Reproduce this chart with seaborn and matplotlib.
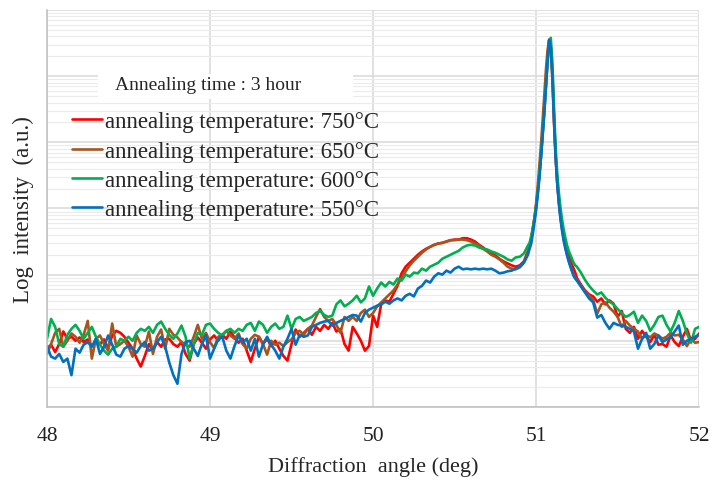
import numpy as np
import pandas as pd
import matplotlib
matplotlib.use("Agg")
import matplotlib.pyplot as plt
from matplotlib.patches import Rectangle
from matplotlib.ticker import FixedLocator, NullFormatter
import seaborn as sns

sns.set_theme(style="white")
plt.rcParams['font.family'] = ['Liberation Serif', 'DejaVu Sans']

# diffraction angle grid (deg): coarse, fine around the peak, coarse again
angle_a = np.round(48 + 0.025 * np.arange(119), 3)
angle_b = np.round(50.96 + 0.01 * np.arange(29), 2)
angle_c = np.round(51.25 + 0.025 * np.arange(31), 3)
angle = np.concatenate([angle_a, angle_b, angle_c])

# log10 intensity
log_750 = [
    0.88, 0.94, 0.83, 0.95, 1.14, 1.03, 1.06, 1.00, 1.05, 0.98,
    1.02, 0.92, 0.98, 0.95, 1.02, 0.88, 1.08, 1.15, 1.12, 1.06,
    0.97, 0.88, 0.73, 0.61, 0.77, 0.95, 0.85, 0.98, 0.91, 1.02,
    1.03, 0.95, 0.91, 0.98, 0.80, 0.70, 0.95, 1.05, 0.97, 0.88,
    1.02, 1.08, 1.00, 1.09, 1.03, 1.14, 1.05, 0.97, 1.03, 0.85,
    0.68, 0.88, 1.06, 0.95, 1.03, 0.92, 1.00, 0.88, 0.77, 0.70,
    0.95, 1.17, 1.06, 1.12, 1.18, 1.09, 1.21, 1.15, 1.24, 1.18,
    1.27, 1.14, 1.18, 0.95, 0.85, 1.21, 1.11, 1.00, 0.85, 0.92,
    1.38, 1.21, 1.56, 1.61, 1.59, 1.71, 1.83, 2.02, 2.12, 2.18,
    2.24, 2.30, 2.35, 2.39, 2.42, 2.45, 2.47, 2.48, 2.50, 2.52,
    2.53, 2.53, 2.55, 2.55, 2.53, 2.50, 2.45, 2.41, 2.36, 2.32,
    2.29, 2.24, 2.20, 2.17, 2.14, 2.12, 2.14, 2.20, 2.36,
    2.45, 2.55, 2.71, 2.85, 3.03, 3.26, 3.52, 3.80, 4.14, 4.48,
    4.85, 5.24, 5.55, 5.45, 5.05, 4.36, 3.79, 3.39, 3.11, 2.88,
    2.71, 2.58, 2.47, 2.38, 2.30, 2.23, 2.15, 2.09, 2.03,
    1.95, 1.85, 1.76, 1.70, 1.67, 1.59, 1.64, 1.55, 1.61, 1.56,
    1.36, 1.45, 1.18, 1.12, 1.21, 1.03, 1.15, 1.06, 0.98, 1.09,
    0.94, 0.95, 0.91, 1.08, 0.98, 0.92, 1.06, 1.18, 1.00, 1.03, 1.11,
]
log_650 = [
    0.80, 0.95, 1.12, 1.18, 0.91, 1.00, 1.11, 1.06, 0.97, 1.09,
    1.30, 0.73, 1.03, 1.08, 0.95, 0.85, 1.26, 0.91, 0.95, 1.00,
    0.91, 0.76, 1.08, 0.95, 0.91, 1.14, 0.80, 1.06, 1.17, 0.88,
    1.18, 1.09, 1.05, 0.98, 0.94, 0.91, 1.06, 1.24, 1.03, 1.12,
    0.98, 0.89, 1.06, 1.09, 1.15, 1.08, 1.03, 1.11, 0.95, 0.88,
    1.03, 1.09, 1.06, 0.95, 0.79, 1.00, 0.94, 0.97, 0.92, 0.98,
    1.02, 1.12, 1.15, 1.09, 1.18, 1.23, 1.36, 1.48, 1.36, 1.30,
    1.33, 1.24, 1.12, 1.36, 1.30, 1.36, 1.30, 1.42, 1.47, 1.36,
    1.42, 1.52, 1.58, 1.64, 1.70, 1.76, 1.85, 1.95, 2.05, 2.14,
    2.21, 2.27, 2.33, 2.38, 2.42, 2.45, 2.47, 2.48, 2.50, 2.52,
    2.52, 2.53, 2.53, 2.52, 2.50, 2.47, 2.44, 2.39, 2.35, 2.30,
    2.27, 2.23, 2.18, 2.12, 2.09, 2.08, 2.11, 2.18, 2.33,
    2.44, 2.53, 2.68, 2.86, 3.08, 3.33, 3.64, 3.97, 4.33, 4.70,
    5.09, 5.39, 5.55, 5.39, 4.94, 4.29, 3.76, 3.38, 3.09, 2.86,
    2.68, 2.53, 2.41, 2.30, 2.21, 2.14, 2.06, 2.00, 1.95,
    1.92, 1.83, 1.74, 1.68, 1.62, 1.41, 1.55, 1.58, 1.50, 1.44,
    1.36, 1.21, 1.30, 1.23, 1.18, 1.14, 1.03, 1.09, 1.05, 1.11,
    1.08, 1.03, 1.06, 1.12, 1.08, 1.09, 1.02, 0.92, 1.03, 0.97, 0.98,
]
log_600 = [
    1.03, 1.33, 1.21, 0.95, 0.91, 1.09, 1.18, 1.24, 1.15, 1.03,
    1.12, 1.21, 1.06, 0.94, 0.85, 0.79, 0.88, 0.91, 1.03, 1.00,
    1.06, 1.00, 1.12, 1.18, 1.15, 1.21, 1.12, 1.24, 1.29, 1.18,
    1.09, 1.03, 1.11, 1.23, 1.06, 0.73, 0.95, 1.12, 1.09, 1.24,
    1.26, 1.18, 1.12, 1.08, 1.15, 1.18, 1.12, 1.18, 1.15, 1.24,
    1.27, 1.15, 1.29, 1.24, 1.12, 1.21, 1.26, 1.18, 1.21, 1.38,
    1.18, 1.33, 1.36, 1.30, 1.33, 1.36, 1.42, 1.45, 1.39, 1.36,
    1.38, 1.55, 1.61, 1.52, 1.56, 1.61, 1.68, 1.58, 1.64, 1.82,
    1.68, 1.79, 1.88, 1.82, 1.89, 1.85, 1.94, 1.91, 2.00, 1.97,
    2.03, 2.02, 2.09, 2.06, 2.12, 2.15, 2.18, 2.24, 2.27, 2.30,
    2.33, 2.36, 2.41, 2.44, 2.45, 2.44, 2.41, 2.39, 2.38, 2.35,
    2.33, 2.30, 2.27, 2.23, 2.21, 2.26, 2.27, 2.32, 2.44,
    2.48, 2.58, 2.70, 2.85, 3.03, 3.24, 3.50, 3.79, 4.11, 4.45,
    4.82, 5.21, 5.52, 5.58, 5.20, 4.52, 3.91, 3.52, 3.23, 3.00,
    2.82, 2.67, 2.55, 2.44, 2.36, 2.30, 2.24, 2.18, 2.14,
    2.12, 2.03, 1.92, 1.83, 1.76, 1.70, 1.73, 1.65, 1.59, 1.55,
    1.48, 1.42, 1.36, 1.39, 1.44, 1.27, 1.38, 1.30, 1.15, 1.24,
    1.36, 1.38, 1.24, 1.14, 1.27, 1.45, 1.30, 1.11, 0.97, 1.18, 1.21,
]
log_550 = [
    0.92, 0.76, 0.73, 0.80, 0.68, 0.73, 0.48, 0.88, 0.82, 0.94,
    0.98, 0.91, 1.03, 0.80, 0.91, 1.08, 0.94, 0.79, 0.76, 0.88,
    0.92, 0.88, 0.82, 0.92, 0.98, 0.85, 0.88, 0.98, 1.06, 0.91,
    0.67, 0.48, 0.35, 0.80, 0.98, 1.00, 0.88, 0.77, 0.95, 1.08,
    0.73, 0.88, 1.02, 1.06, 0.85, 0.73, 0.92, 1.08, 0.97, 1.03,
    0.85, 1.03, 0.76, 0.95, 1.06, 0.94, 0.85, 0.73, 0.91, 1.03,
    1.18, 0.94, 1.09, 1.06, 1.08, 1.21, 1.24, 1.27, 1.29, 1.30,
    1.23, 1.27, 1.30, 1.33, 1.36, 1.39, 1.38, 1.29, 1.42, 1.47,
    1.50, 1.53, 1.55, 1.59, 1.56, 1.61, 1.64, 1.61, 1.68, 1.71,
    1.67, 1.79, 1.83, 1.91, 1.88, 1.97, 2.02, 2.00, 2.06, 2.03,
    2.09, 2.12, 2.08, 2.09, 2.08, 2.09, 2.08, 2.09, 2.08, 2.09,
    2.06, 2.02, 2.03, 2.05, 2.06, 2.09, 2.12, 2.18, 2.30,
    2.39, 2.47, 2.62, 2.79, 2.97, 3.20, 3.45, 3.76, 4.09, 4.44,
    4.82, 5.21, 5.55, 5.44, 5.00, 4.32, 3.76, 3.35, 3.06, 2.83,
    2.65, 2.50, 2.39, 2.29, 2.20, 2.12, 2.05, 1.98, 1.94,
    1.91, 1.82, 1.73, 1.64, 1.58, 1.35, 1.39, 1.27, 1.18, 1.27,
    1.24, 1.23, 1.21, 1.18, 1.14, 0.88, 1.03, 1.12, 0.88, 0.95,
    1.08, 0.98, 1.02, 1.05, 1.14, 1.23, 0.94, 1.00, 1.03, 1.06, 1.09,
]

labels = ["annealing temperature: 750°C", "annealing temperature: 650°C",
          "annealing temperature: 600°C", "annealing temperature: 550°C"]
colors = ["#ff0000", "#a5561e", "#00b050", "#0070c0"]

df = pd.concat([
    pd.DataFrame({"angle": angle, "logI": vals, "sample": lab})
    for vals, lab in zip([log_750, log_650, log_600, log_550], labels)
])

fig = plt.figure(figsize=(7.23, 4.81), dpi=100)
ax = fig.add_axes([0.065, 0.152, 0.902, 0.825])

sns.lineplot(data=df, x="angle", y="logI", hue="sample", hue_order=labels,
             palette=colors, estimator=None, sort=False, linewidth=1.9, ax=ax)

ax.set_xlim(48, 52)
ax.set_ylim(0, 6)
ax.set_xticks([48, 49, 50, 51, 52])
ax.yaxis.set_major_locator(FixedLocator(np.arange(0, 7)))
ax.yaxis.set_minor_locator(FixedLocator([n + np.log10(k) for n in range(6) for k in range(2, 10)]))
ax.yaxis.set_major_formatter(NullFormatter())
ax.set_axisbelow(True)
ax.grid(axis="x", which="major", color="#d9d9d9", linewidth=1.1)
ax.grid(axis="y", which="major", color="#d9d9d9", linewidth=1.1)
ax.grid(axis="y", which="minor", color="#ebebeb", linewidth=0.8)
ax.tick_params(axis="both", which="both", length=0)
ax.tick_params(axis="x", labelsize=15.5, pad=14, colors="#222222")
for side in ["top", "right"]:
    ax.spines[side].set_visible(False)
for side in ["left", "bottom"]:
    ax.spines[side].set_color("#bfbfbf")
    ax.spines[side].set_linewidth(1.1)

ax.set_xlabel("Diffraction  angle (deg)", fontsize=16, labelpad=8)
ax.set_ylabel("Log  intensity  (a.u.)", fontsize=16.5, labelpad=6)

handles, labs = ax.get_legend_handles_labels()
ax.legend(handles, labs, loc="upper left", bbox_to_anchor=(0.038, 0.745),
          frameon=False, fontsize=16.5, handlelength=1.3, handletextpad=0.15,
          labelspacing=0.36, borderpad=0, borderaxespad=0)

ax.add_patch(Rectangle((0.078, 0.776), 0.391, 0.063, transform=ax.transAxes,
                       facecolor="white", edgecolor="none", zorder=3))
ax.text(0.104, 0.812, "Annealing time : 3 hour", transform=ax.transAxes,
        fontsize=14, ha="left", va="center", zorder=4)

fig.savefig("out.png", dpi=100)
